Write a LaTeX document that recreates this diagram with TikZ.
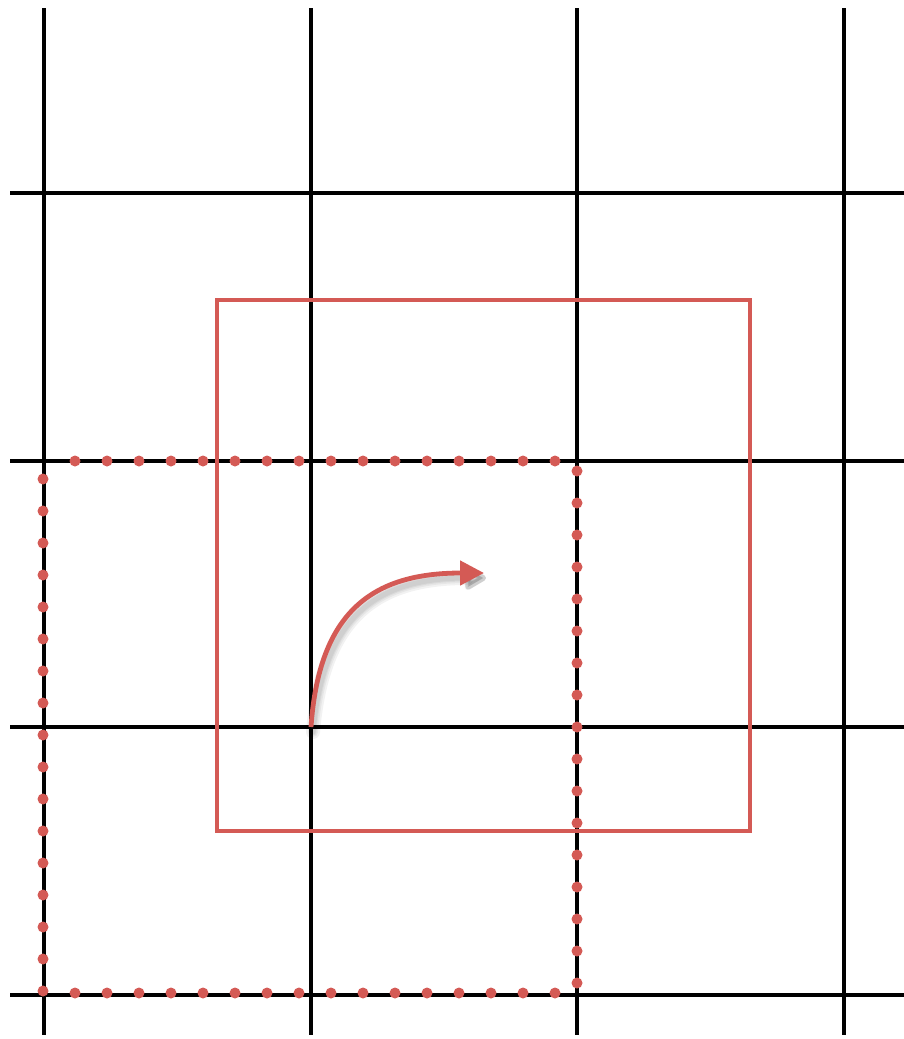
\documentclass[tikz,border=0pt]{standalone}
\usetikzlibrary{arrows.meta,calc}
\definecolor{redc}{HTML}{D45A55}
\tikzset{
  gridline/.style={line width=4.4pt, black},
  redbox/.style={line width=4.2pt, redc},
  reddot/.style={fill=redc, draw=none},
  arrowpath/.style={line width=4.8pt, redc, -{Triangle[length=24pt,width=24pt]}},
  shadowpath/.style={line width=#1, black, opacity=0.05, line cap=round, -{Triangle[length=24pt,width=26pt,round]}},
}
\begin{document}
\begin{tikzpicture}[x=1pt,y=-1pt]
\useasboundingbox (0,0) rectangle (904,1039);
% grid
\foreach \x in {44,311,577,844} \draw[gridline] (\x,8) -- (\x,1035);
\foreach \y in {193,461,727,995} \draw[gridline] (10,\y) -- (904,\y);
% solid red square
\draw[redbox] (217,300) rectangle (750,831);
% dotted square
\foreach \k in {0,...,15} {
  \fill[reddot] ({75+32*\k},461) circle (5.5);
  \fill[reddot] ({75+32*\k},993) circle (5.5);
}
\foreach \k in {0,...,16} {
  \fill[reddot] (43,{479+32*\k}) circle (5.5);
  \fill[reddot] (577,{471+32*\k}) circle (5.5);
}
% arrow
\coordinate (s) at (311,727);
\coordinate (e) at (484,573);
\foreach \w in {14pt,10pt,7pt,5pt}
  \draw[shadowpath=\w] ($(s)+(2,5)$) .. controls (323,617) and (376,578) .. ($(e)+(2,5)$);
\draw[arrowpath] (s) .. controls (319,612) and (372,573) .. (e);
\end{tikzpicture}
\end{document}
